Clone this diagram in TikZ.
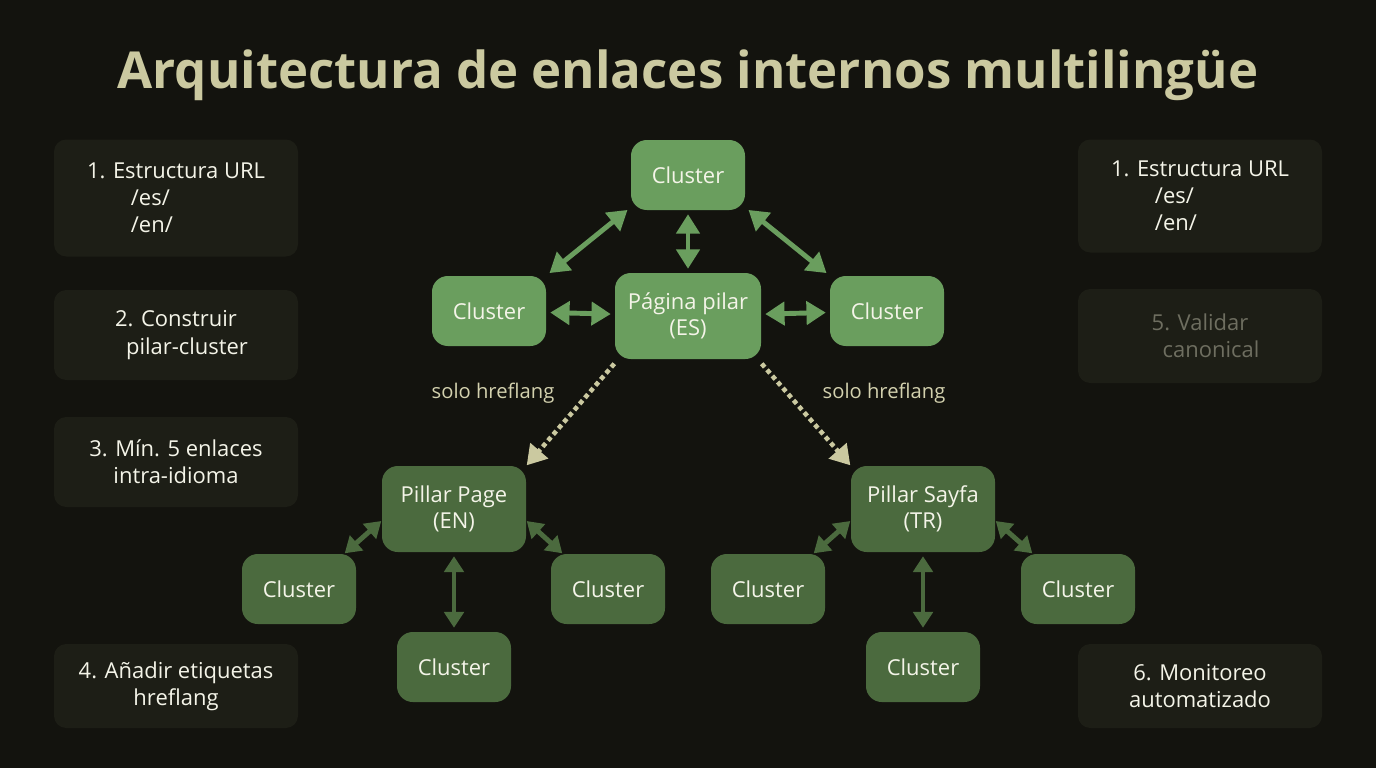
\documentclass[tikz,border=0pt]{standalone}
\usepackage{fontspec}
\setmainfont{Open Sans}
\usetikzlibrary{arrows.meta}
\definecolor{bgc}{HTML}{13130E}
\definecolor{titlec}{HTML}{CBC9A0}
\definecolor{greenhi}{HTML}{6A9E5E}
\definecolor{greenlo}{HTML}{4B6A3E}
\definecolor{boxc}{HTML}{1D1E16}
\definecolor{txtc}{HTML}{F4F4E8}
\definecolor{dimc}{HTML}{6E6E60}
\begin{document}
\begin{tikzpicture}[x=0.02cm,y=-0.02cm,
    thick,
    top node/.style={rectangle,rounded corners=9pt,fill=greenhi,text=txtc,font=\fontsize{12.5}{15}\selectfont,align=center,inner sep=0pt},
    low node/.style={top node,fill=greenlo},
    side box/.style={rectangle,rounded corners=7pt,fill=boxc,text=txtc,font=\fontsize{12.5}{15.5}\selectfont,align=left,minimum width=244*0.02cm,inner sep=0pt},
    top link/.style={draw=greenhi,line width=2.8pt,{Triangle[width=13pt,length=11pt]}-{Triangle[width=13pt,length=11pt]},shorten <=2pt,shorten >=2pt},
    low link/.style={top link,draw=greenlo,{Triangle[width=11pt,length=9pt]}-{Triangle[width=11pt,length=9pt]}},
    href link/.style={draw=titlec,line width=2.6pt,dotted,-{Triangle[width=13pt,length=11pt]}},
    note/.style={text=titlec!85!white,font=\fontsize{11.5}{14}\selectfont}]

    % Background
    \fill[bgc] (0,0) rectangle (1376,768);

    % Title
    \node[text=titlec,font=\fontsize{29}{34}\selectfont\bfseries] (title) at (688,75) {Arquitectura de enlaces internos multilingüe};

    % Spanish pillar
    \node[top node,minimum width=146*0.02cm,minimum height=86*0.02cm] (ES) at (688,316) {Página pilar\\(ES)};
    \node[top node,minimum width=114*0.02cm,minimum height=70*0.02cm] (ctop) at (688,175) {Cluster};
    \node[top node,minimum width=114*0.02cm,minimum height=70*0.02cm] (cleft) at (489,311) {Cluster};
    \node[top node,minimum width=114*0.02cm,minimum height=70*0.02cm] (cright) at (887,311) {Cluster};

    % English and Turkish pillars
    \node[low node,minimum width=144*0.02cm,minimum height=86*0.02cm] (EN) at (454,509) {Pillar Page\\(EN)};
    \node[low node,minimum width=144*0.02cm,minimum height=86*0.02cm] (TR) at (923,509) {Pillar Sayfa\\(TR)};
    \foreach \n/\x/\y in {en1/299/589,en2/608/589,en3/454/667,tr1/768/589,tr2/1078/589,tr3/923/667}
        \node[low node,minimum width=114*0.02cm,minimum height=70*0.02cm] (\n) at (\x,\y) {Cluster};

    % Links
    \draw[top link] (ES) -- (ctop);
    \draw[top link] (ES) -- (cleft);
    \draw[top link] (ES) -- (cright);
    \draw[top link] (ctop.south west) ++(0,-3) -- (cleft.north east);
    \draw[top link] (ctop.south east) ++(0,-3) -- (cright.north west);
    \draw[low link] (EN) -- (en3);
    \draw[low link] (TR) -- (tr3);
    \foreach \p/\a/\b in {EN/en1/en2,TR/tr1/tr2} {
        \draw[low link,shorten <=0pt,shorten >=0pt] ([shift={(0,12)}]\p.west) -- ([shift={(-12,0)}]\a.north east);
        \draw[low link,shorten <=0pt,shorten >=0pt] ([shift={(0,12)}]\p.east) -- ([shift={(12,0)}]\b.north west);
    }
    \draw[href link] (ES.south west) ++(0,4) -- (EN.north east);
    \draw[href link] (ES.south east) ++(0,4) -- (TR.north west);
    \node[note] (h1) at (493,393) {solo hreflang};
    \node[note] (h2) at (884,393) {solo hreflang};

    % Side boxes
    \node[side box,minimum height=117*0.02cm] (s1) at (176,198) {1. Estructura URL\\\hspace{2em}/es/\\\hspace{2em}/en/};
    \node[side box,minimum height=90*0.02cm,align=center] (s2) at (176,335) {2. Construir\\\hspace{1em}pilar-cluster};
    \node[side box,minimum height=90*0.02cm,align=center] (s3) at (176,462) {3. Mín. 5 enlaces\\intra-idioma};
    \node[side box,minimum height=84*0.02cm,align=center] (s4) at (176,686) {4. Añadir etiquetas\\hreflang};
    \node[side box,minimum height=113*0.02cm] (r1) at (1200,196) {1. Estructura URL\\\hspace{2em}/es/\\\hspace{2em}/en/};
    \node[side box,minimum height=94*0.02cm,align=center,text=dimc] (r2) at (1200,336) {5. Validar\\\hspace{1em}canonical};
    \node[side box,minimum height=84*0.02cm,align=center] (r3) at (1200,686) {6. Monitoreo\\automatizado};
\end{tikzpicture}
\end{document}
